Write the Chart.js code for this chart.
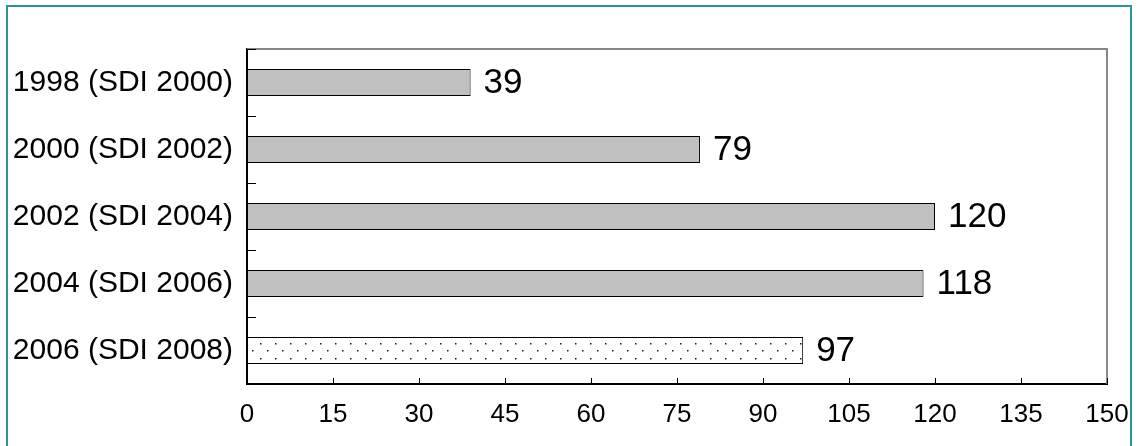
<!DOCTYPE html>
<html>
<head>
<meta charset="utf-8">
<script src="https://cdn.jsdelivr.net/npm/chart.js@4/dist/chart.umd.min.js"></script>
<style>
  html, body { margin: 0; padding: 0; background: #fff; }
  canvas { display: block; }
</style>
</head>
<body>
<canvas id="chart" width="1142" height="446"></canvas>
<script>
const categories = ['1998 (SDI 2000)', '2000 (SDI 2002)', '2002 (SDI 2004)', '2004 (SDI 2006)', '2006 (SDI 2008)'];
const values = [39, 79, 120, 118, 97];
const xTicks = [0, 15, 30, 45, 60, 75, 90, 105, 120, 135, 150];

const FONT = '"Liberation Sans", Arial, sans-serif';

// dotted fill for the latest survey bar
function dotPattern(ctx) {
  const tile = document.createElement('canvas');
  tile.width = 15;
  tile.height = 15;
  const t = tile.getContext('2d');
  t.fillStyle = '#ffffff';
  t.fillRect(0, 0, 15, 15);
  t.fillStyle = '#1a1a1a';
  t.fillRect(5, 13, 1.5, 1.5);
  t.fillRect(12, 5, 1.5, 1.5);
  return ctx.createPattern(tile, 'repeat');
}

const ctx = document.getElementById('chart').getContext('2d');
const pattern = dotPattern(ctx);
const fills = values.map((v, i) => i === values.length - 1 ? pattern : '#c0c0c0');

const framePlugin = {
  id: 'frame',
  beforeDraw(chart) {
    const c = chart.ctx;
    c.save();
    c.strokeStyle = '#2a9696';
    c.lineWidth = 2;
    c.beginPath();
    c.moveTo(7, 446);
    c.lineTo(7, 6);
    c.lineTo(1131, 6);
    c.lineTo(1131, 446);
    c.stroke();
    c.restore();
  },
  afterDatasetsDraw(chart) {
    const c = chart.ctx;
    const a = chart.chartArea;
    const x = chart.scales.x;
    c.save();
    // grey top and right edges of the plot box
    c.strokeStyle = '#888888';
    c.lineWidth = 2;
    c.beginPath();
    c.moveTo(a.left, a.top);
    c.lineTo(a.right, a.top);
    c.lineTo(a.right, a.bottom);
    c.stroke();

    // inward tick marks
    c.strokeStyle = '#000';
    c.lineWidth = 1;
    c.beginPath();
    x.ticks.forEach(t => {
      const px = Math.round(x.getPixelForValue(t.value)) + 0.5;
      c.moveTo(px, a.bottom);
      c.lineTo(px, a.bottom - 6);
    });
    const n = categories.length;
    for (let i = 0; i <= n; i++) {
      const py = Math.round(a.top + i * (a.bottom - a.top) / n) + 0.5;
      c.moveTo(a.left, py);
      c.lineTo(a.left + 9, py);
    }
    c.stroke();

    // value labels at the bar ends
    c.fillStyle = '#000';
    c.font = '35px ' + FONT;
    c.textAlign = 'left';
    c.textBaseline = 'middle';
    chart.getDatasetMeta(0).data.forEach((bar, i) => {
      c.fillText(String(values[i]), bar.x + 13, bar.y + 1);
    });
    c.restore();
  }
};

new Chart(ctx, {
  type: 'bar',
  data: {
    labels: categories,
    datasets: [{
      data: values,
      backgroundColor: fills,
      borderColor: '#000',
      borderWidth: 1,
      borderSkipped: false,
      categoryPercentage: 1,
      barPercentage: 0.4
    }]
  },
  options: {
    indexAxis: 'y',
    responsive: false,
    animation: false,
    devicePixelRatio: 1,
    layout: { padding: { top: 49, right: 35, left: 0, bottom: 0 } },
    plugins: {
      legend: { display: false },
      tooltip: { enabled: false }
    },
    scales: {
      x: {
        min: 0,
        max: 150,
        afterBuildTicks: scale => { scale.ticks = xTicks.map(v => ({ value: v })); },
        afterFit: scale => {
          scale.height = 62;
          scale.paddingLeft = 0;
          scale.paddingRight = 0;
        },
        grid: { display: false, drawTicks: false },
        border: { display: true, color: '#000', width: 2 },
        ticks: {
          color: '#000',
          padding: 15,
          maxRotation: 0,
          autoSkip: false,
          font: { family: FONT, size: 26 }
        }
      },
      y: {
        afterFit: scale => { scale.width = 247; },
        grid: { display: false, drawTicks: false },
        border: { display: true, color: '#000', width: 2 },
        ticks: {
          color: '#000',
          padding: 14,
          font: { family: FONT, size: 30 }
        }
      }
    }
  },
  plugins: [framePlugin]
});
</script>
</body>
</html>
